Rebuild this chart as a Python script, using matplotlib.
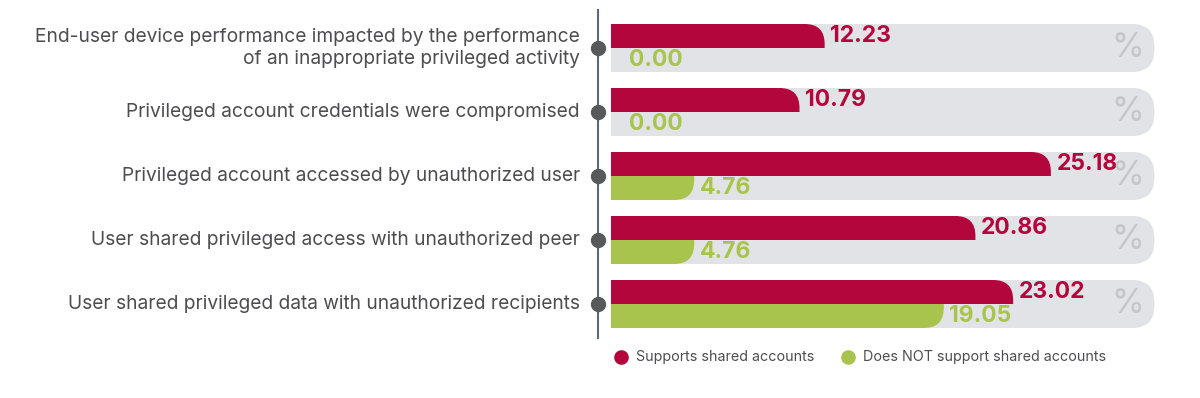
import matplotlib
matplotlib.use('Agg')
import matplotlib.pyplot as plt
from matplotlib.path import Path
from matplotlib.patches import PathPatch

categories = [
    'End-user device performance impacted by the performance\nof an inappropriate privileged activity',
    'Privileged account credentials were compromised',
    'Privileged account accessed by unauthorized user',
    'User shared privileged access with unauthorized peer',
    'User shared privileged data with unauthorized recipients',
]
supports = [12.23, 10.79, 25.18, 20.86, 23.02]
no_support = [0.00, 0.00, 4.76, 4.76, 19.05]
series_names = ['Supports shared accounts', 'Does NOT support shared accounts']

RED = '#b3063c'
GREEN = '#a9c44c'
TRACK = '#e1e3e6'
TEXT = '#4d4d4f'

plt.rcParams['font.family'] = ['Inter', 'DejaVu Sans']

W, H, DPI = 12, 3.98, 100
fig = plt.figure(figsize=(W, H), dpi=DPI)

# bar axes: x in percent, y in rows (1 row = 64 px)
px_per_unit = 17.47
left_px = 611
xmax = 33
ax = fig.add_axes([left_px / 1200, 0, xmax * px_per_unit / 1200, 1])
ax.set_xlim(0, xmax)
ax.set_ylim((398 - 48) / 64, -48 / 64)
ax.axis('off')

px_x = 1 / px_per_unit
px_y = 1 / 64


def rounded_bar(x1, y0, y1, r_px, top=True, bottom=True, **kw):
    # rectangle from x=0 to x1, right corners rounded
    rx = min(r_px * px_x, x1)
    ry = r_px * px_y
    verts, codes = [(0, y0)], [Path.MOVETO]
    # y0 is the upper edge on screen (smaller value, inverted axis)
    if top:
        verts += [(x1 - rx, y0), (x1, y0), (x1, y0 + ry)]
        codes += [Path.LINETO, Path.CURVE3, Path.CURVE3]
    else:
        verts += [(x1, y0)]
        codes += [Path.LINETO]
    if bottom:
        verts += [(x1, y1 - ry), (x1, y1), (x1 - rx, y1)]
        codes += [Path.LINETO, Path.CURVE3, Path.CURVE3]
    else:
        verts += [(x1, y1)]
        codes += [Path.LINETO]
    verts += [(0, y1), (0, y0)]
    codes += [Path.LINETO, Path.CLOSEPOLY]
    ax.add_patch(PathPatch(Path(verts, codes), lw=0, **kw))


h = 0.375
track_end = 31.1
for i, (a, b) in enumerate(zip(supports, no_support)):
    rounded_bar(track_end, i - h, i + h, 22, facecolor=TRACK)
    if a > 0:
        rounded_bar(a, i - h, i, 20, top=True, bottom=False, facecolor=RED)
    if b > 0:
        rounded_bar(b, i, i + h, 20, top=False, bottom=True, facecolor=GREEN)
    ax.annotate(f'{a:.2f}', (a, i - h / 2), xytext=(4, 0), textcoords='offset points',
                ha='left', va='center', color=RED, fontsize=16.5, fontweight='bold')
    off = 4 if b > 0 else 13
    ax.annotate(f'{b:.2f}', (b, i + h / 2), xytext=(off, 0), textcoords='offset points',
                ha='left', va='center', color=GREEN, fontsize=16.5, fontweight='bold')
    ax.text(29.6, i, '%', ha='center', va='center', color='#c4c6c9', fontsize=24)

# category axis line with dots
fig.add_artist(plt.Line2D([598 / 1200] * 2, [1 - 10 / 398, 1 - 338 / 398],
                          color='#5d6a75', lw=1.5))
for i, cat in enumerate(categories):
    yf = 1 - (48 + 64 * i) / 398
    fig.add_artist(plt.Line2D([598 / 1200], [yf], marker='o', markersize=10,
                              color='#58595b', lw=0))
    fig.text(580 / 1200, yf, cat, ha='right', va='center', color=TEXT,
             fontsize=13.8, linespacing=1.25)

# legend
ly = 1 - 357 / 398
for x0, name, c in [(621, series_names[0], RED), (848, series_names[1], GREEN)]:
    fig.add_artist(plt.Line2D([x0 / 1200], [ly], marker='o', markersize=9.5,
                              color=c, lw=0))
    fig.text((x0 + 15) / 1200, ly, name, ha='left', va='center', color=TEXT,
             fontsize=10.3)

fig.savefig('out.png', dpi=DPI)
